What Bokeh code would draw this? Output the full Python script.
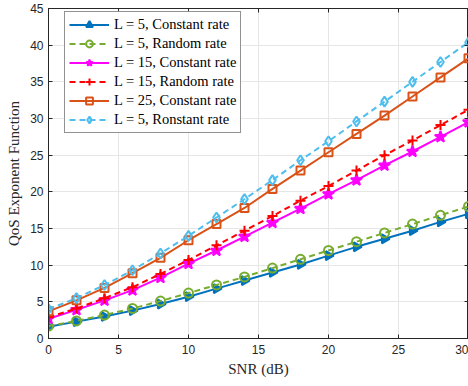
import numpy as np
from bokeh.plotting import figure
from bokeh.models import LinearAxis, Legend, FixedTicker, Range1d, ColumnDataSource
from bokeh.embed import file_html
from bokeh.resources import INLINE

snr = [0, 2, 4, 6, 8, 10, 12, 14, 16, 18, 20, 22, 24, 26, 28, 30]
l5_const = [1.6, 2.3, 3.0, 3.8, 4.7, 5.7, 6.8, 7.9, 9.0, 10.1, 11.3, 12.5, 13.6, 14.7, 15.9, 17.0]
l5_rand = [1.7, 2.4, 3.2, 4.1, 5.1, 6.2, 7.3, 8.4, 9.6, 10.8, 12.0, 13.2, 14.4, 15.6, 16.8, 18.0]
l15_const = [2.7, 3.9, 5.2, 6.6, 8.3, 10.2, 12.0, 13.9, 15.8, 17.7, 19.7, 21.6, 23.6, 25.5, 27.5, 29.5]
l15_rand = [2.9, 4.1, 5.5, 7.0, 8.8, 10.7, 12.7, 14.7, 16.7, 18.8, 20.8, 22.9, 25.0, 27.0, 29.1, 31.2]
l25_const = [3.7, 5.2, 6.9, 8.9, 11.0, 13.4, 15.6, 17.8, 20.4, 22.9, 25.4, 27.9, 30.4, 33.0, 35.6, 38.2]
l5_ronst = [4.0, 5.5, 7.3, 9.3, 11.6, 14.0, 16.5, 19.0, 21.6, 24.3, 26.9, 29.6, 32.3, 35.0, 37.7, 40.4]

labels = ["L = 5, Constant rate", "L = 5, Random rate", "L = 15, Constant rate",
          "L = 15, Random rate", "L = 25, Constant rate", "L = 5, Ronstant rate"]
x_ticks = [0, 5, 10, 15, 20, 25, 30]
y_ticks = [0, 5, 10, 15, 20, 25, 30, 35, 40, 45]

p = figure(width=468, height=386, output_backend="svg", toolbar_location=None,
           x_range=Range1d(0, 30), y_range=Range1d(0, 45),
           min_border_left=48, min_border_right=0, min_border_top=8, min_border_bottom=48)
p.outline_line_color = "#262626"
p.outline_line_width = 1

tick_font = "Liberation Sans"
lab_font = "Liberation Serif"

for ax in (p.xaxis[0], p.yaxis[0]):
    ax.major_tick_in = 4
    ax.major_tick_out = 0
    ax.minor_tick_line_color = None
    ax.axis_line_color = "#262626"
    ax.major_tick_line_color = "#262626"
    ax.major_label_text_font = tick_font
    ax.major_label_text_font_size = "12px"
    ax.major_label_text_color = "#262626"
    ax.axis_label_text_font = lab_font
    ax.axis_label_text_font_size = "15px"
    ax.axis_label_text_font_style = "normal"
    ax.axis_label_text_color = "#262626"
p.xaxis.ticker = FixedTicker(ticks=x_ticks)
p.yaxis.ticker = FixedTicker(ticks=y_ticks)
p.xaxis.axis_label = "SNR (dB)"
p.yaxis.axis_label = "QoS Exponent Function"
p.xaxis.major_label_standoff = 6
p.yaxis.major_label_standoff = 5
p.xaxis.axis_label_standoff = 4
p.yaxis.axis_label_standoff = 5

top_ax = LinearAxis(ticker=FixedTicker(ticks=x_ticks), major_tick_in=4, major_tick_out=0,
                    minor_tick_line_color=None, major_label_text_color=None,
                    axis_line_color="#262626", major_tick_line_color="#262626",
                    major_label_standoff=0)
right_ax = LinearAxis(ticker=FixedTicker(ticks=y_ticks), major_tick_in=4, major_tick_out=0,
                      minor_tick_line_color=None, major_label_text_color=None,
                      axis_line_color="#262626", major_tick_line_color="#262626",
                      major_label_standoff=0)
p.add_layout(top_ax, "above")
p.add_layout(right_ax, "right")

p.xgrid.ticker = FixedTicker(ticks=x_ticks)
p.ygrid.ticker = FixedTicker(ticks=y_ticks)
p.grid.grid_line_color = "#e6e6e6"
p.grid.grid_line_width = 1

series = [
    (l5_const, "#0072BD", "solid", "triangle", "#0072BD", -np.pi / 2),
    (l5_rand, "#77AC30", "6 4", "circle", None, 0.0),
    (l15_const, "#FF00FF", "solid", "star", "#FF00FF", 0.0),
    (l15_rand, "#FF0000", "6 4", "cross", None, 0.0),
    (l25_const, "#D95319", "solid", "square", None, 0.0),
    (l5_ronst, "#4DBEEE", "6 4", "diamond", None, 0.0),
]
sizes = {"triangle": 9, "circle": 9, "star": 12, "cross": 10, "square": 8, "diamond": 10}

items = []
for (ys, col, dash, mk, fill, ang), lab in zip(series, labels):
    src = ColumnDataSource(dict(x=snr, y=ys, a=[ang] * len(snr)))
    r1 = p.line("x", "y", source=src, line_color=col, line_width=2, line_dash=dash)
    r2 = p.scatter("x", "y", source=src, marker=mk, size=sizes[mk], angle="a",
                   line_color=col, line_width=2, fill_color=fill)
    items.append((lab, [r1, r2]))

legend = Legend(items=items, location=(16, 205), label_text_font=lab_font,
                label_text_font_size="14.5px", label_text_color="#000000",
                glyph_width=40, glyph_height=17, label_height=17, spacing=2,
                padding=4, margin=0, label_standoff=5,
                border_line_color="#262626", border_line_width=1,
                background_fill_color="white", background_fill_alpha=1)
p.add_layout(legend, "center")

open("out.html", "w").write(file_html(p, INLINE))
